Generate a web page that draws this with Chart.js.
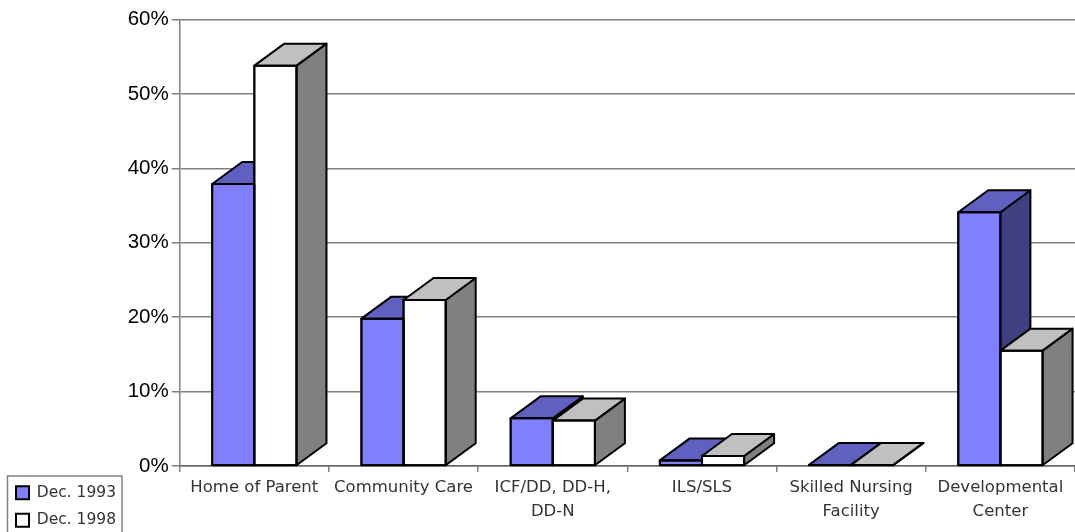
<!DOCTYPE html>
<html lang="en">
<head>
    <meta charset="UTF-8">
    <title>Residence Type</title>
    <style>
        body { margin: 0; background: #fff; }
        #wrap { width: 1075px; height: 532px; position: relative; }
    </style>
    <script src="https://cdn.jsdelivr.net/npm/chart.js"></script>
</head>
<body>
    <div id="wrap"><canvas id="chart"></canvas></div>
    <script>
        const categories = [
            'Home of Parent',
            'Community Care',
            ['ICF/DD, DD-H,', 'DD-N'],
            'ILS/SLS',
            ['Skilled Nursing', 'Facility'],
            ['Developmental', 'Center']
        ];
        const dec1993 = [37.9, 19.8, 6.4, 0.75, 0.15, 34.1];
        const dec1998 = [53.8, 22.3, 6.1, 1.35, 0.15, 15.5];
        const yTicks = [0, 10, 20, 30, 40, 50, 60];

        // Fake 3D: top and side faces go under the fronts that Chart.js draws
        const depthX = 30, depthY = 22;
        const faceColors = [
            { top: '#6060C0', side: '#404080' },
            { top: '#C0C0C0', side: '#808080' }
        ];

        function face(ctx, pts, fill) {
            ctx.beginPath();
            pts.forEach((p, i) => i ? ctx.lineTo(p[0], p[1]) : ctx.moveTo(p[0], p[1]));
            ctx.closePath();
            ctx.fillStyle = fill;
            ctx.fill();
            ctx.stroke();
        }

        function outline(ctx) {
            ctx.strokeStyle = '#000';
            ctx.lineWidth = 2;
            ctx.lineJoin = 'round';
        }

        const bars3d = {
            id: 'bars3d',
            beforeDatasetsDraw(chart) {
                const ctx = chart.ctx;
                ctx.save();
                outline(ctx);
                categories.forEach((c, i) => {
                    chart.data.datasets.forEach((ds, d) => {
                        const bar = chart.getDatasetMeta(d).data[i];
                        const l = bar.x - bar.width / 2, r = bar.x + bar.width / 2;
                        const t = bar.y, b = bar.base;
                        face(ctx, [[r, t], [r + depthX, t - depthY], [r + depthX, b - depthY], [r, b]], faceColors[d].side);
                        face(ctx, [[l, t], [l + depthX, t - depthY], [r + depthX, t - depthY], [r, t]], faceColors[d].top);
                    });
                });
                ctx.restore();
            },
            // very short bars lose their border in Chart.js, so outline the fronts again
            afterDatasetsDraw(chart) {
                const ctx = chart.ctx;
                ctx.save();
                outline(ctx);
                chart.data.datasets.forEach((ds, d) => {
                    chart.getDatasetMeta(d).data.forEach(bar => {
                        ctx.strokeRect(bar.x - bar.width / 2, bar.y, bar.width, bar.base - bar.y);
                    });
                });
                ctx.restore();
            }
        };

        // Frame round the legend, it runs off the bottom of the picture
        const legendFrame = {
            id: 'legendFrame',
            afterDraw(chart) {
                const box = chart.legend.legendHitBoxes[0];
                const ctx = chart.ctx;
                ctx.save();
                ctx.strokeStyle = '#808080';
                ctx.lineWidth = 1.5;
                ctx.strokeRect(7.5, box.top - 9, 114.5, 80);
                ctx.restore();
            }
        };

        new Chart(document.getElementById('chart'), {
            type: 'bar',
            data: {
                labels: categories,
                datasets: [
                    { label: 'Dec. 1993', data: dec1993, backgroundColor: '#8080FF' },
                    { label: 'Dec. 1998', data: dec1998, backgroundColor: '#FFFFFF' }
                ]
            },
            plugins: [bars3d, legendFrame],
            options: {
                responsive: true,
                maintainAspectRatio: false,
                animation: false,
                layout: { padding: { left: 4, top: 19.5, right: 0, bottom: -8 } },
                datasets: {
                    bar: {
                        categoryPercentage: 0.565,
                        barPercentage: 1,
                        borderColor: '#000',
                        borderWidth: 2,
                        borderSkipped: false,
                        inflateAmount: 1
                    }
                },
                scales: {
                    x: {
                        afterFit(scale) { scale.height = 74; },
                        border: { color: '#666', width: 1.5 },
                        grid: { drawOnChartArea: false, color: '#808080', tickLength: 6, lineWidth: 1.5 },
                        ticks: {
                            autoSkip: false,
                            maxRotation: 0,
                            padding: 4,
                            color: '#333',
                            font: { family: '"DejaVu Sans"', size: 16.5, lineHeight: 1.45 }
                        }
                    },
                    y: {
                        min: 0,
                        max: 60,
                        afterFit(scale) { scale.width = 60.7; },
                        border: { color: '#808080', width: 1.5 },
                        grid: { color: '#808080', tickLength: 8, lineWidth: 1.5 },
                        afterBuildTicks(scale) { scale.ticks = yTicks.map(v => ({ value: v })); },
                        ticks: {
                            padding: 3,
                            color: '#000',
                            font: { family: '"Liberation Sans"', size: 20.5 },
                            callback: v => v + '%'
                        }
                    }
                },
                plugins: {
                    tooltip: { enabled: false },
                    legend: {
                        position: 'left',
                        align: 'end',
                        maxWidth: 115,
                        labels: {
                            boxWidth: 13,
                            boxHeight: 13,
                            padding: 12,
                            color: '#333',
                            font: { family: '"DejaVu Sans"', size: 15.5 }
                        }
                    }
                }
            }
        });
    </script>
</body>
</html>
